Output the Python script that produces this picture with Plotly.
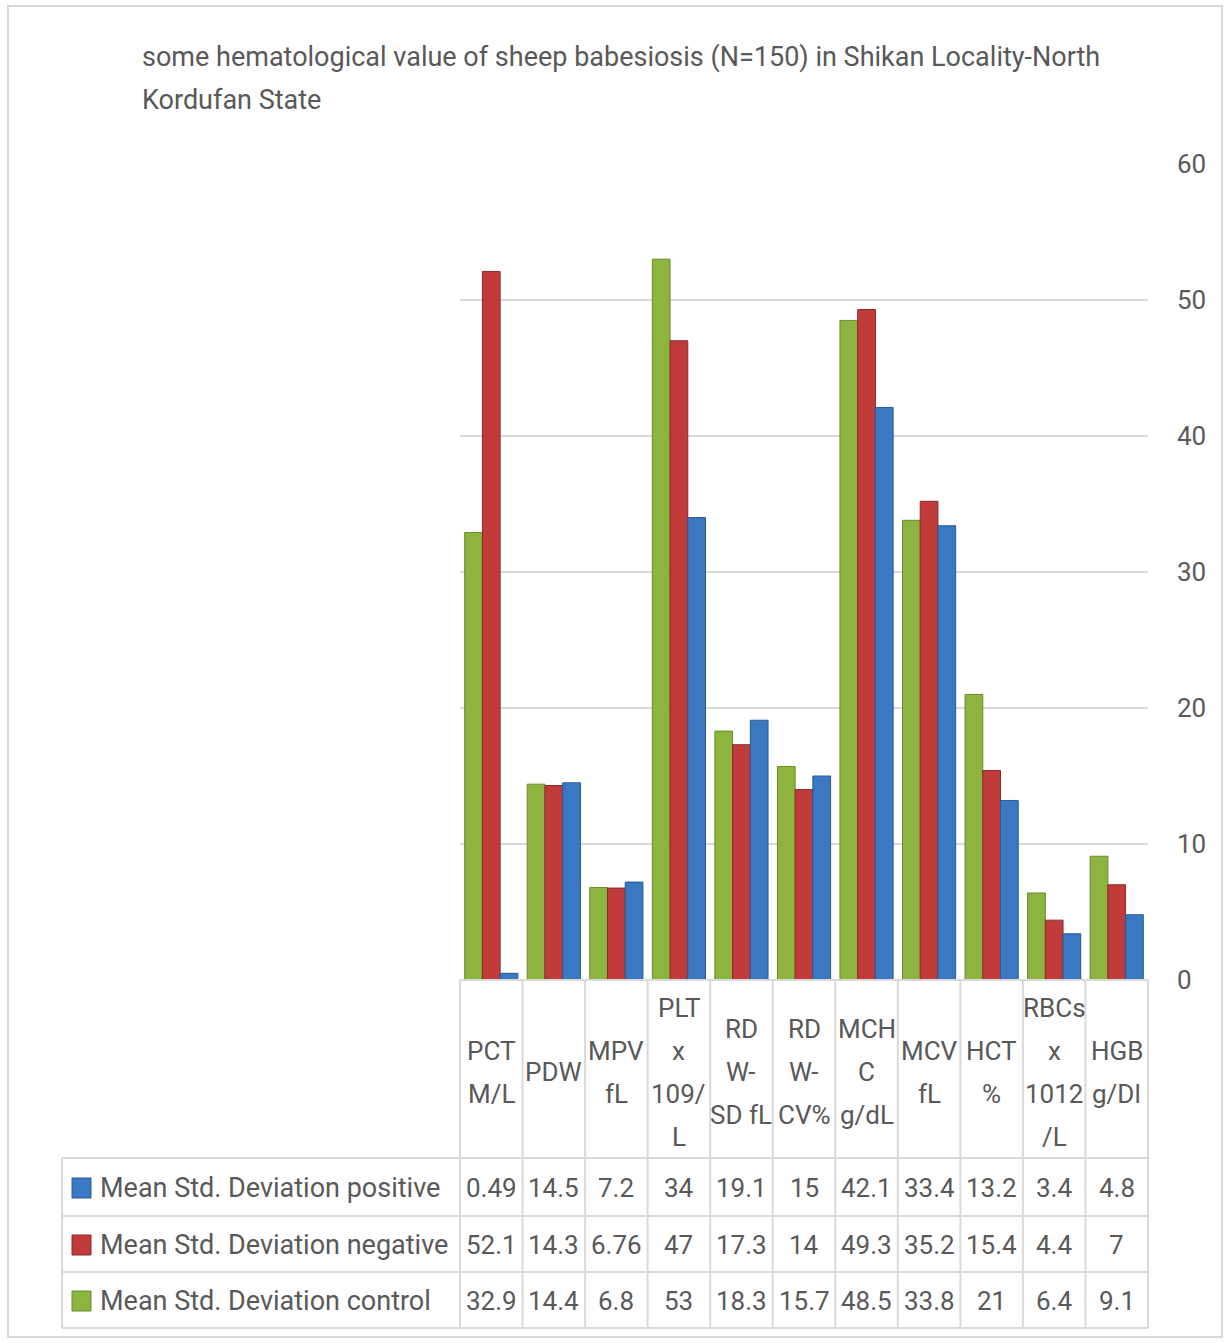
import plotly.graph_objects as go

# ---------------- data ----------------
categories = ["PCT<br>M/L", "PDW", "MPV<br>fL", "PLT<br>x<br>109/<br>L", "RD<br>W-<br>SD fL",
              "RD<br>W-<br>CV%", "MCH<br>C<br>g/dL", "MCV<br>fL", "HCT<br>%",
              "RBCs<br>x<br>1012<br>/L", "HGB<br>g/Dl"]
positive = [0.49, 14.5, 7.2, 34, 19.1, 15, 42.1, 33.4, 13.2, 3.4, 4.8]
negative = [52.1, 14.3, 6.76, 47, 17.3, 14, 49.3, 35.2, 15.4, 4.4, 7]
control = [32.9, 14.4, 6.8, 53, 18.3, 15.7, 48.5, 33.8, 21, 6.4, 9.1]
series_names = ["Mean Std. Deviation positive", "Mean Std. Deviation negative",
                "Mean Std. Deviation control"]
title_lines = ["some hematological value of sheep babesiosis (N=150) in Shikan Locality-North",
               "Kordufan State"]
y_ticks = [0, 10, 20, 30, 40, 50, 60]

# ---------------- style ----------------
FONT = "Roboto, Liberation Sans, Noto Sans, sans-serif"
FS = 26        # table cells / header / ticks
FS_BIG = 27    # title and series names
TXT = "#595959"
GRID = "#d9d9d9"
GREEN, GREEN_E = "#8db43e", "#6a8a2a"
RED, RED_E = "#c23b3b", "#8c2828"
BLUE, BLUE_E = "#3b78c2", "#285a96"

WIDTH, HEIGHT = 1225, 1343
L, R, T, B = 460, 1148, 164, 980
PW, PH = R - L, B - T
LINE = 43  # line pitch of multi-line texts, px


def px(p):
    return (p - L) / PW


def py(p):
    return (B - p) / PH


n = len(categories)
xs = list(range(n))

fig = go.Figure()
fig.add_trace(go.Bar(x=xs, y=control, name=series_names[2],
                     marker=dict(color=GREEN, line=dict(color=GREEN_E, width=1))))
fig.add_trace(go.Bar(x=xs, y=negative, name=series_names[1],
                     marker=dict(color=RED, line=dict(color=RED_E, width=1))))
fig.add_trace(go.Bar(x=xs, y=positive, name=series_names[0],
                     marker=dict(color=BLUE, line=dict(color=BLUE_E, width=1))))

shapes = []
annotations = []

# outer border
shapes.append(dict(type="rect", xref="paper", yref="paper", x0=px(8), x1=px(1222), y0=py(6), y1=py(1337),
                   line=dict(color=GRID, width=2), layer="below"))

# table grid
row_lines = [1158, 1216, 1272, 1328]
for k in range(n + 1):
    shapes.append(dict(type="line", xref="paper", yref="paper", x0=k / n, x1=k / n, y0=py(980), y1=py(1328),
                       line=dict(color=GRID, width=2)))
shapes.append(dict(type="line", xref="paper", yref="paper", x0=px(62), x1=px(62), y0=py(1158), y1=py(1328),
                   line=dict(color=GRID, width=2)))
for r in row_lines:
    shapes.append(dict(type="line", xref="paper", yref="paper", x0=px(62), x1=1, y0=py(r), y1=py(r),
                       line=dict(color=GRID, width=2)))
shapes.append(dict(type="line", xref="paper", yref="paper", x0=0, x1=1, y0=0, y1=0,
                   line=dict(color=GRID, width=2)))

# header labels (one annotation per line to keep the reference's line pitch)
HEAD_C = 1072
for i, c in enumerate(categories):
    parts = c.split("<br>")
    m = len(parts)
    for k, part in enumerate(parts):
        yc = HEAD_C + (k - (m - 1) / 2) * LINE
        annotations.append(dict(xref="paper", yref="paper", x=(i + 0.5) / n, y=py(yc), text=part,
                                showarrow=False, xanchor="center", yanchor="middle",
                                font=dict(family=FONT, size=FS, color=TXT)))

# rows
rows = [(series_names[0], positive, BLUE, BLUE_E), (series_names[1], negative, RED, RED_E),
        (series_names[2], control, GREEN, GREEN_E)]
for j, (name, vals, col, edge) in enumerate(rows):
    yc = (row_lines[j] + row_lines[j + 1]) / 2 + 1
    shapes.append(dict(type="rect", xref="paper", yref="paper", x0=px(72), x1=px(91),
                       y0=py(yc - 10), y1=py(yc + 10),
                       fillcolor=col, line=dict(color=edge, width=1)))
    annotations.append(dict(xref="paper", yref="paper", x=px(98), y=py(yc), text=name, showarrow=False,
                            xanchor="left", yanchor="middle", font=dict(family=FONT, size=FS_BIG, color=TXT)))
    for i, v in enumerate(vals):
        annotations.append(dict(xref="paper", yref="paper", x=(i + 0.5) / n, y=py(yc), text=f"{v:g}",
                                showarrow=False, xanchor="center", yanchor="middle",
                                font=dict(family=FONT, size=FS, color=TXT)))

# title
for k, line in enumerate(title_lines):
    annotations.append(dict(xref="paper", yref="paper", x=px(140), y=py(57 + LINE * k), text=line,
                            showarrow=False, xanchor="left", yanchor="middle",
                            font=dict(family=FONT, size=FS_BIG, color=TXT)))

fig.update_layout(
    width=WIDTH, height=HEIGHT, autosize=False,
    margin=dict(l=L, r=WIDTH - R, t=T, b=HEIGHT - B, pad=0),
    paper_bgcolor="white", plot_bgcolor="white",
    barmode="group", bargap=0.15, bargroupgap=0,
    showlegend=False,
    shapes=shapes, annotations=annotations,
    xaxis=dict(range=[-0.5, n - 0.5], showticklabels=False, showgrid=False, zeroline=False, ticks="",
               showline=False),
    yaxis=dict(side="right", range=[0, 60], tickvals=y_ticks, showgrid=True, gridcolor=GRID, gridwidth=2,
               zeroline=False, showline=False, ticks="", ticklabelstandoff=28,
               tickfont=dict(family=FONT, size=FS, color=TXT)),
)

fig.write_html("out.html")
